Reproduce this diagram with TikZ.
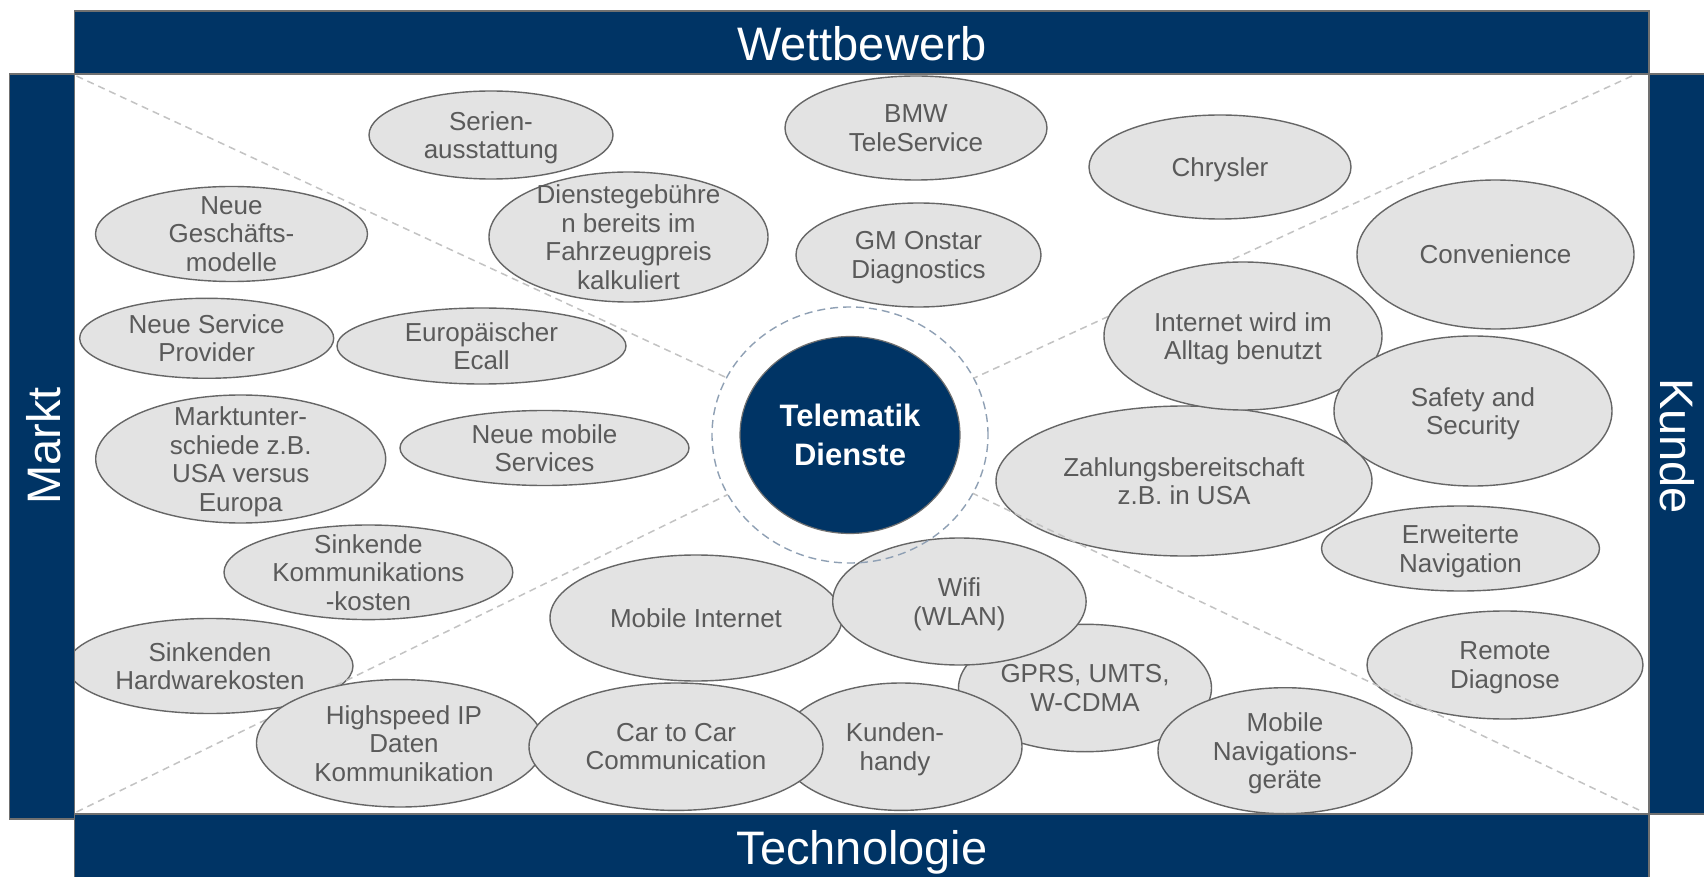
\documentclass[tikz,border=0pt]{standalone}
\usepackage{fontspec}
\setmainfont{Liberation Sans}
\usetikzlibrary{shapes.geometric}
\definecolor{navy}{HTML}{003465}
\definecolor{ellfill}{HTML}{E3E3E3}
\definecolor{elldraw}{HTML}{666666}
\definecolor{txtgray}{HTML}{5A5A5A}
\definecolor{diag}{HTML}{C3C3C3}
\definecolor{ringc}{HTML}{8FA0B4}
\definecolor{barline}{HTML}{707070}
\begin{document}
\begin{tikzpicture}[x=0.5pt,y=-0.5pt,
  bubble/.style 2 args={ellipse, draw=elldraw, fill=ellfill, line width=0.7pt,
    minimum width=#1pt, minimum height=#2pt, inner sep=0pt, outer sep=0pt},
  btext/.style={align=center, text=txtgray, font=\fontsize{13}{14.2}\selectfont, inner sep=0pt, text depth=0pt},
  bar/.style={fill=navy, draw=barline, line width=0.6pt},
  head/.style={text=white, font=\fontsize{23.5}{26}\selectfont, inner sep=0pt},
  diagline/.style={draw=diag, line width=0.75pt, dash pattern=on 3.5pt off 2.5pt},
  ringstyle/.style={ellipse, draw=ringc, line width=0.7pt, dash pattern=on 4pt off 2.5pt,
    minimum width=138pt, minimum height=128pt, inner sep=0pt, outer sep=0pt},
  core/.style={ellipse, fill=navy, draw=barline, line width=0.6pt,
    minimum width=110pt, minimum height=98.5pt, inner sep=0pt, outer sep=0pt,
    text=white, align=center, font=\fontsize{15.5}{19.7}\selectfont\bfseries}]
\useasboundingbox (0,0) rectangle (1704,877);
\fill[white] (0,0) rectangle (1704,877);

% bubbles (lower layer)
\node[bubble={122}{44}] (serien) at (491,135) {};
\node[btext] (serien-t) at (serien) {Serien-\\ausstattung};
\node[bubble={131}{52}] (bmw) at (916,128) {};
\node[btext] (bmw-t) at (bmw) {BMW\\TeleService};
\node[bubble={131}{52}] (chrysler) at (1220,167) {};
\node[btext] (chrysler-t) at (chrysler) {Chrysler};
\node[bubble={136}{47.5}] (gesch) at (231.5,234) {};
\node[btext] (gesch-t) at (gesch) {Neue\\Geschäfts-\\modelle};
\node[bubble={139.5}{65}] (dienst) at (628.5,237) {};
\node[btext] (dienst-t) at (dienst) {Dienstegebühre\\n bereits im\\Fahrzeugpreis\\kalkuliert};
\node[bubble={122.5}{52}] (gm) at (918.5,255) {};
\node[btext] (gm-t) at (gm) {GM Onstar\\Diagnostics};
\node[bubble={138.5}{74.5}] (conv) at (1495.5,254.5) {};
\node[btext] (conv-t) at (conv) {Convenience};
\node[bubble={127}{40}] (nsp) at (206.7,338.3) {};
\node[btext] (nsp-t) at (nsp) {Neue Service\\Provider};
\node[bubble={144.5}{38}] (ecall) at (481.5,346) {};
\node[btext] (ecall-t) at (ecall) {Europäischer\\Ecall};
\node[bubble={145}{64}] (markt) at (240.7,459) {};
\node[btext] (markt-t) at (markt) {Marktunter-\\schiede z.B.\\USA versus\\Europa};
\node[bubble={144.5}{37.5}] (nms) at (544.5,448) {};
\node[btext] (nms-t) at (nms) {Neue mobile\\Services};
\node[bubble={188}{75}] (zahl) at (1184,481) {};
\node[btext] (zahl-t) at (zahl) {Zahlungsbereitschaft\\z.B. in USA};
\node[bubble={139}{42.5}] (erw) at (1460.5,548.5) {};
\node[btext] (erw-t) at (erw) {Erweiterte\\Navigation};
\node[bubble={144.4}{47.3}] (skk) at (368.4,572.3) {};
\node[btext] (skk-t) at (skk) {Sinkende\\Kommunikations\\-kosten};
\node[bubble={146}{63}] (mint) at (696,618) {};
\node[btext] (mint-t) at (mint) {Mobile Internet};
\node[bubble={143}{47.5}] (shw) at (210,666) {};
\node[btext] (shw-t) at (shw) {Sinkenden\\Hardwarekosten};
\node[bubble={126.5}{63.7}] (gprs) at (1085,688) {};
\node[btext] (gprs-t) at (gprs) {GPRS, UMTS,\\W-CDMA};
\node[bubble={126.7}{63.5}] (wifi) at (959.4,601.5) {};
\node[btext] (wifi-t) at (wifi) {Wifi\\(WLAN)};
\node[bubble={121}{63.7}] (kunden) at (901,746.7) {};
\node[btext] (kunden-t) at (895,746.7) {Kunden-\\handy};
\node[bubble={127}{63}] (mnav) at (1285,750.7) {};
\node[btext] (mnav-t) at (mnav) {Mobile\\Navigations-\\geräte};
\node[bubble={138}{54}] (remote) at (1505,665) {};
\node[btext] (remote-t) at (remote) {Remote\\Diagnose};

% ring and diagonals
\node[ringstyle] (ring) at (850,435) {};
\coordinate (tl) at (76.5,76);
\coordinate (tr) at (1632,76);
\coordinate (bl) at (76.5,812);
\coordinate (br) at (1639,810);
\draw[diagline] (tl) -- (ring);
\draw[diagline] (tr) -- (ring);
\draw[diagline] (bl) -- (ring);
\draw[diagline] (br) -- (ring);

% bubbles (upper layer)
\node[bubble={139}{74}] (internet) at (1243,336) {};
\node[btext] (internet-t) at (internet) {Internet wird im\\Alltag benutzt};
\node[bubble={139}{75}] (safety) at (1473,411) {};
\node[btext] (safety-t) at (safety) {Safety and\\Security};
\node[bubble={143.5}{63.7}] (highspeed) at (400,743.3) {};
\node[btext] (highspeed-t) at (404,743.3) {Highspeed IP\\Daten\\Kommunikation};
\node[bubble={147}{63.7}] (car) at (676,746.7) {};
\node[btext] (car-t) at (car) {Car to Car\\Communication};

% centre
\node[core] (tele) at (850,435) {Telematik\\Dienste};

% frame bars
\path[bar] (74.6,11) rectangle (1649,74);
\path[bar] (9.6,74) rectangle (74.6,819);
\path[bar] (1649,74) rectangle (1720,814);
\path[bar] (74.6,814) rectangle (1649,890);
\node[head, anchor=base] (wett) at (862,61) {Wettbewerb};
\node[head, anchor=base] (tech) at (862,864) {Technologie};
\node[head, anchor=base, rotate=90] (marktlab) at (61,446) {Markt};
\node[head, anchor=base, rotate=-90] (kunde) at (1660.5,446) {Kunde};
\end{tikzpicture}
\end{document}
